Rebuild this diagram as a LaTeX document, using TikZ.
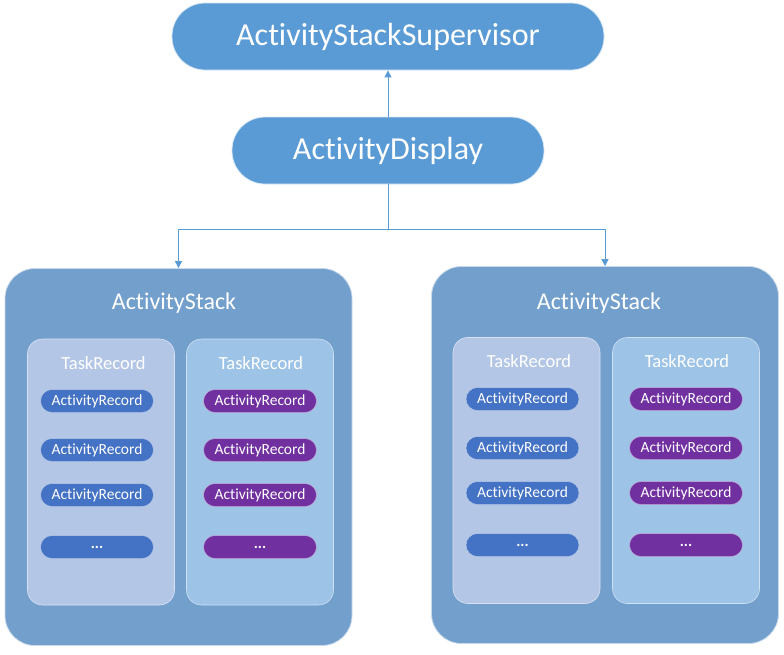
\documentclass[tikz,border=0pt]{standalone}
\usepackage{fontspec}
\setmainfont[Ligatures=NoCommon]{Carlito}
\usetikzlibrary{arrows.meta}
\definecolor{topblue}{HTML}{5B9BD5}
\definecolor{stackblue}{HTML}{739FCC}
\definecolor{tasklav}{HTML}{B4C6E6}
\definecolor{tasksky}{HTML}{9DC3E6}
\definecolor{recblue}{HTML}{4472C4}
\definecolor{recpurple}{HTML}{7030A0}
\tikzset{
  topnode/.style={fill=topblue, draw=white!75!topblue, line width=0.8pt, rounded corners=33pt,
    minimum height=67pt, text=white, font=\fontsize{32}{38}\selectfont},
  stackbox/.style={fill=stackblue, draw=white!60!stackblue, line width=0.8pt, rounded corners=30pt,
    minimum width=347pt, minimum height=377pt},
  taskbox/.style={draw=white!50!#1, line width=0.6pt, fill=#1, rounded corners=15pt,
    minimum width=147pt, minimum height=266pt},
  stacktitle/.style={text=white, font=\fontsize{24}{28}\selectfont},
  tasktitle/.style={text=white, font=\fontsize{18.5}{22}\selectfont},
  rec/.style={fill=#1, draw=white!60!#1, line width=0.5pt, rounded corners=11.5pt, minimum width=113pt,
    minimum height=23pt, inner sep=0pt, text=white, font=\fontsize{15.5}{18}\selectfont},
  link/.style={draw=topblue, line width=1pt},
}
\begin{document}
\begin{tikzpicture}[x=1pt, y=-1pt, >={Triangle[width=7pt,length=7pt]}]
\useasboundingbox (0,0) rectangle (784,654);
% top of the hierarchy
\node[topnode, minimum width=432pt] (sup) at (388,36.5) {ActivityStackSupervisor};
\node[topnode, minimum width=312pt] (disp) at (388,150.5) {ActivityDisplay};
% left stack
\node[stackbox] (stackL) at (178.5,457) {};
\node[stacktitle] (titleL) at (174,303) {ActivityStack};
\node[taskbox=tasklav] (taskLa) at (101,472) {};
\node[taskbox=tasksky] (taskLb) at (260,472) {};
\node[tasktitle] (tlabLa) at (103.5,363) {TaskRecord};
\node[tasktitle] (tlabLb) at (261,363) {TaskRecord};
\node[rec=recblue] (recLa1) at (97,401) {ActivityRecord};
\node[rec=recblue] (recLa2) at (97,450) {ActivityRecord};
\node[rec=recblue] (recLa3) at (97,495) {ActivityRecord};
\node[rec=recblue] (recLa4) at (97,547) {\textbf{...}};
\node[rec=recpurple] (recLb1) at (260,401) {ActivityRecord};
\node[rec=recpurple] (recLb2) at (260,450) {ActivityRecord};
\node[rec=recpurple] (recLb3) at (260,495) {ActivityRecord};
\node[rec=recpurple] (recLb4) at (260,547) {\textbf{...}};
% right stack
\node[stackbox] (stackR) at (605,455) {};
\node[stacktitle] (titleR) at (599,303) {ActivityStack};
\node[taskbox=tasklav] (taskRa) at (526.5,470.5) {};
\node[taskbox=tasksky] (taskRb) at (686,470.5) {};
\node[tasktitle] (tlabRa) at (529,361) {TaskRecord};
\node[tasktitle] (tlabRb) at (687,361) {TaskRecord};
\node[rec=recblue] (recRa1) at (522.5,399) {ActivityRecord};
\node[rec=recblue] (recRa2) at (522.5,448) {ActivityRecord};
\node[rec=recblue] (recRa3) at (522.5,493) {ActivityRecord};
\node[rec=recblue] (recRa4) at (522.5,545) {\textbf{...}};
\node[rec=recpurple] (recRb1) at (686,399) {ActivityRecord};
\node[rec=recpurple] (recRb2) at (686,448) {ActivityRecord};
\node[rec=recpurple] (recRb3) at (686,493) {ActivityRecord};
\node[rec=recpurple] (recRb4) at (686,545) {\textbf{...}};
% connectors
\coordinate (split) at (388,229);
\draw[link, ->] (disp) -- (sup);
\draw[link] (disp) -- (split);
\draw[link, ->] (split) -| (stackL);
\draw[link, ->] (split) -| (stackR);
\end{tikzpicture}
\end{document}
